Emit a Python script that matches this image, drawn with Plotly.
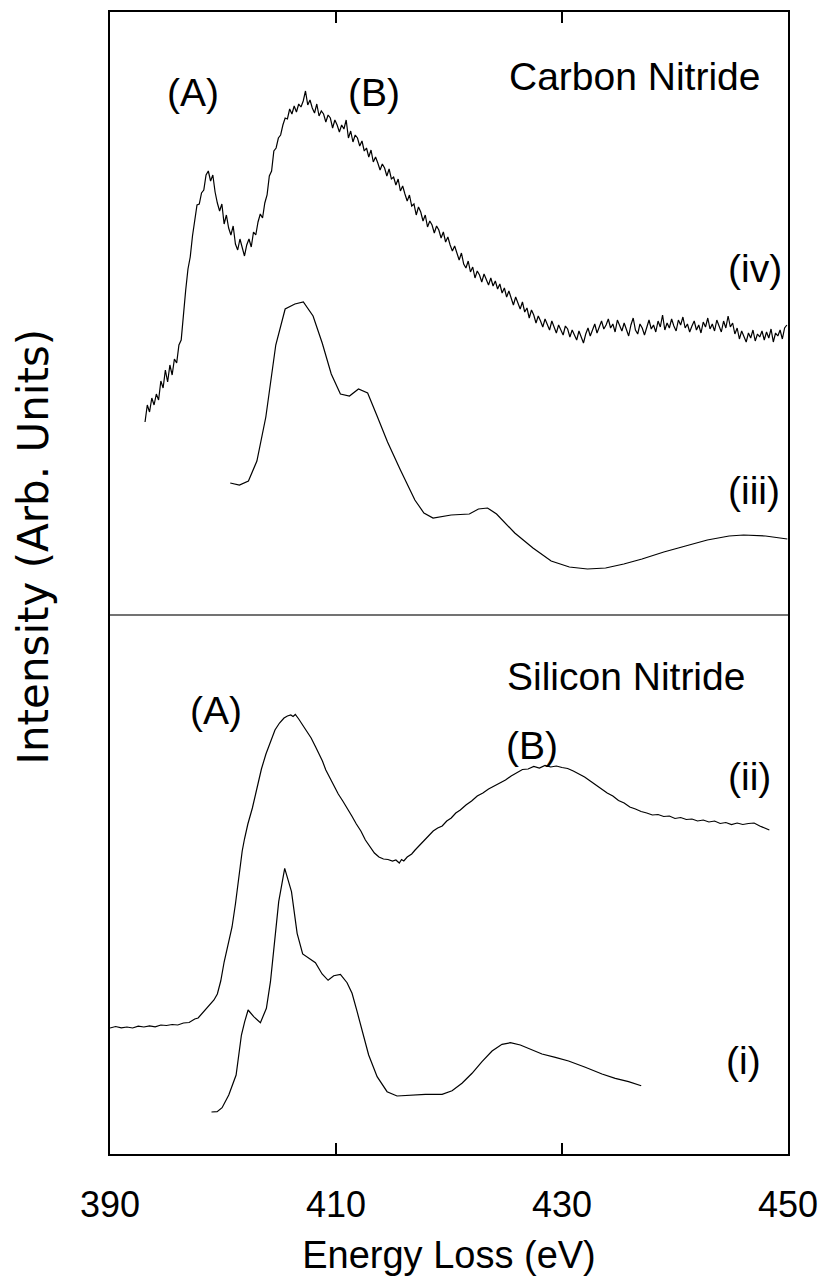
import plotly.graph_objects as go

# ---------------------------------------------------------------------------
# Spectra (energy loss in eV, intensity in arbitrary units, offsets included)
# ---------------------------------------------------------------------------

# (iv) Carbon nitride, measured spectrum: uniform channels starting at E0_IV
E0_IV = 393.1
DE_IV = 0.2
intensity_iv = [
    # 393.1 - 404.9 eV
    73.2, 74.9, 74.2, 75.6, 74.9, 76.0, 75.4, 77.3, 76.6, 78.4,
    77.2, 78.9, 77.9, 79.5, 79.1, 80.9, 81.4, 84.3, 86.4, 88.5,
    89.7, 91.8, 93.6, 94.9, 95.0, 96.1, 96.4, 97.9, 98.3, 97.3,
    97.9, 96.2, 95.1, 94.3, 95.0, 93.0, 93.9, 92.6, 91.9, 92.8,
    91.0, 90.4, 91.5, 90.6, 89.8, 90.9, 91.5, 90.7, 92.2, 91.9,
    93.2, 94.0, 93.6, 95.1, 95.9, 97.8, 98.3, 100.3, 100.6, 101.6,
    # 405.1 - 414.9 eV
    101.9, 102.9, 103.6, 103.5, 104.5, 104.0, 104.8, 104.2, 105.0, 104.7,
    105.3, 106.3, 104.9, 105.4, 104.6, 104.1, 105.0, 103.8, 104.3, 104.0,
    103.2, 103.9, 103.6, 102.6, 103.4, 102.9, 102.2, 102.9, 102.5, 103.4,
    101.6, 102.3, 101.2, 101.9, 101.6, 100.8, 101.3, 100.3, 100.6, 99.7,
    100.4, 99.2, 99.7, 99.1, 98.4, 99.0, 98.6, 97.8, 98.5, 97.5,
    # 415.1 - 424.9 eV
    97.7, 96.9, 97.5, 96.3, 96.8, 96.0, 95.3, 95.9, 94.8, 95.0,
    93.9, 94.7, 94.2, 93.3, 93.9, 92.7, 93.3, 92.9, 92.1, 92.8,
    92.4, 91.6, 92.2, 91.2, 91.7, 90.9, 90.3, 90.8, 90.0, 89.4,
    90.1, 89.0, 88.6, 89.3, 88.2, 88.7, 87.6, 88.3, 87.9, 87.2,
    88.0, 87.4, 86.9, 87.6, 86.8, 87.3, 86.5, 87.0, 86.1, 86.6,
    # 425.1 - 434.9 eV
    85.7, 86.3, 85.6, 84.9, 85.7, 85.0, 84.5, 85.2, 84.2, 84.6,
    83.6, 84.4, 83.9, 83.1, 83.8, 83.3, 82.7, 83.5, 82.9, 82.4,
    83.3, 82.6, 82.1, 82.9, 82.3, 81.9, 82.8, 82.5, 81.7, 82.4,
    81.9, 81.4, 82.3, 81.6, 81.1, 82.0, 82.6, 81.8, 82.4, 83.0,
    82.1, 82.7, 83.3, 82.5, 82.9, 83.5, 82.6, 83.0, 82.2, 83.4,
    # 435.1 - 444.9 eV
    82.8, 82.3, 83.1, 82.5, 81.8, 82.9, 83.6, 82.4, 82.0, 83.0,
    82.6, 81.9, 82.8, 83.4, 82.5, 82.9, 82.2, 83.3, 82.7, 83.9,
    82.4, 83.1, 82.6, 83.5, 82.8, 82.3, 83.4, 82.9, 83.7, 82.6,
    83.0, 82.2, 82.8, 83.3, 82.4, 82.9, 82.1, 83.2, 82.7, 83.6,
    82.5, 83.0, 82.3, 83.4, 82.8, 82.2, 83.3, 82.6, 83.8, 82.7,
    # 445.1 - 449.9 eV
    83.1, 82.0, 82.6, 81.5, 82.3, 81.8, 81.2, 82.1, 81.6, 82.4,
    81.3, 82.0, 81.7, 82.3, 81.4, 82.2, 81.6, 82.5, 81.2, 82.1,
    81.8, 82.4, 81.5, 82.6, 82.9,
]
energy_iv = [round(E0_IV + DE_IV * k, 2) for k in range(len(intensity_iv))]

# (iii) Carbon nitride, calculated spectrum
energy_iii = [
    400.64, 401.45, 402.25, 403.00, 403.79, 404.67, 405.50, 406.36, 407.11, 407.97,
    408.78, 409.58, 410.39, 411.19, 411.99, 412.80, 413.60, 414.56, 415.70, 416.98,
    417.78, 418.59, 420.19, 421.80, 422.61, 423.41, 424.21, 425.82, 427.43, 429.04,
    430.65, 432.25, 433.86, 435.47, 437.08, 439.01, 440.93, 442.86, 444.79, 446.07,
    448.01, 449.94,
]
intensity_iii = [
    67.1, 66.9, 67.3, 69.3, 73.7, 80.9, 84.5, 85.0, 85.2, 83.8,
    81.1, 78.0, 76.0, 75.8, 76.5, 76.1, 73.9, 71.2, 68.4, 65.4,
    64.1, 63.6, 63.9, 64.0, 64.5, 64.6, 64.0, 62.1, 60.6, 59.3,
    58.7, 58.5, 58.6, 59.0, 59.5, 60.2, 60.8, 61.4, 61.8, 61.9,
    61.8, 61.5,
]

# (ii) Silicon nitride, measured spectrum
energy_ii = [
    390.0, 390.5, 391.0, 391.5, 392.0, 392.5, 393.0, 393.5, 394.0, 394.5,
    395.0, 395.5, 396.0, 396.5, 397.0, 397.5, 397.8, 398.0, 398.4, 398.8,
    399.2, 399.5, 399.8, 400.1, 400.4, 400.8, 401.1, 401.4, 401.7, 401.9,
    402.2, 402.6, 403.0, 403.4, 403.8, 404.2, 404.6, 405.0, 405.4, 405.7,
    406.0, 406.2, 406.4, 406.7, 407.0, 407.4, 407.8, 408.2, 408.5, 408.8,
    409.1, 409.4, 409.8, 410.2, 410.6, 411.0, 411.4, 411.8, 412.2, 412.6,
    413.0, 413.4, 413.8, 414.2, 414.6, 415.0, 415.3, 415.6, 415.8, 416.0,
    416.3, 416.7, 417.0, 417.4, 417.8, 418.2, 418.6, 419.0, 419.4, 419.8,
    420.2, 420.6, 421.0, 421.5, 422.0, 422.5, 423.0, 423.5, 424.0, 424.5,
    425.0, 425.5, 426.0, 426.5, 427.0, 427.5, 428.0, 428.5, 429.0, 429.5,
    430.0, 430.5, 431.0, 431.5, 432.0, 432.5, 433.0, 433.5, 434.0, 434.5,
    435.0, 435.5, 436.0, 436.5, 437.0, 437.5, 438.0, 438.5, 439.0, 439.5,
    440.0, 440.5, 441.0, 441.5, 442.0, 442.5, 443.0, 443.5, 444.0, 444.5,
    445.0, 445.5, 446.0, 446.5, 447.0, 447.5, 448.0, 448.35,
]
intensity_ii = [
    12.60, 12.75, 12.62, 12.70, 12.60, 12.78, 12.70, 12.82, 12.72, 12.90,
    12.85, 12.95, 12.90, 13.10, 13.15, 13.50, 13.60, 13.85, 14.30, 14.80,
    15.40, 16.00, 17.30, 19.20, 20.80, 22.70, 25.00, 27.90, 30.30, 31.50,
    33.00, 34.60, 36.60, 38.50, 40.00, 41.30, 42.40, 43.10, 43.60, 43.80,
    43.90, 43.75, 43.95, 43.50, 43.00, 42.40, 41.60, 40.70, 40.00, 39.30,
    38.40, 37.70, 36.90, 36.00, 35.30, 34.60, 33.80, 33.00, 32.30, 31.40,
    30.70, 30.10, 29.70, 29.50, 29.45, 29.30, 29.40, 29.10, 29.45, 29.30,
    29.70, 30.00, 30.40, 30.90, 31.40, 31.80, 32.30, 32.60, 32.80, 33.30,
    33.60, 34.10, 34.40, 34.90, 35.30, 35.80, 36.10, 36.50, 36.80, 37.10,
    37.40, 37.80, 38.10, 38.45, 38.50, 38.75, 38.60, 38.85, 38.70, 38.80,
    38.65, 38.55, 38.30, 38.00, 37.70, 37.30, 36.90, 36.50, 36.10, 35.80,
    35.35, 35.10, 34.70, 34.50, 34.25, 34.10, 33.90, 33.95, 33.75, 33.80,
    33.55, 33.65, 33.45, 33.50, 33.30, 33.40, 33.20, 33.30, 33.05, 33.15,
    32.95, 33.10, 32.95, 33.05, 33.10, 32.80, 32.60, 32.40,
]

# (i) Silicon nitride, calculated spectrum
energy_i = [
    398.98, 399.48, 399.92, 400.51, 401.16, 401.63, 401.92, 402.22, 402.72, 403.31,
    403.84, 404.20, 404.93, 405.46, 406.06, 406.56, 407.05, 407.59, 408.18, 408.77,
    409.30, 409.80, 410.39, 410.98, 411.42, 411.87, 412.31, 412.89, 413.64, 414.52,
    415.40, 416.43, 417.91, 419.39, 420.27, 421.15, 422.04, 422.92, 423.81, 424.69,
    425.43, 426.31, 427.35, 428.23, 429.41, 430.58, 432.06, 433.54, 434.71, 435.89,
    437.01,
]
intensity_i = [
    4.20, 4.23, 4.63, 5.90, 7.90, 11.90, 13.23, 14.40, 13.73, 13.13,
    14.57, 17.23, 25.23, 28.57, 26.23, 22.07, 20.00, 19.57, 19.13, 18.00,
    17.37, 17.83, 17.97, 17.13, 16.07, 14.23, 12.23, 9.90, 7.73, 6.23,
    5.80, 5.87, 5.97, 5.97, 6.33, 7.07, 8.07, 9.23, 10.30, 10.97,
    11.13, 10.90, 10.40, 10.00, 9.67, 9.30, 8.67, 8.00, 7.57, 7.23,
    6.83,
]

# Axis settings and labels
X_RANGE = [390, 450]
Y_RANGE = [0, 114.2]
X_TICKS = [390, 410, 430, 450]
PANEL_SPLIT = 53.9

FONT = "Liberation Sans, Arial, Helvetica, sans-serif"
WIDE_FONT = "DejaVu Sans, Liberation Sans, Arial, sans-serif"
LABEL_SIZE = 39

fig = go.Figure()
line_style = dict(color="black", width=1.2)
for name, xs, ys in [
    ("(iv)", energy_iv, intensity_iv),
    ("(iii)", energy_iii, intensity_iii),
    ("(ii)", energy_ii, intensity_ii),
    ("(i)", energy_i, intensity_i),
]:
    fig.add_trace(go.Scatter(x=xs, y=ys, mode="lines", line=line_style,
                             name=name, showlegend=False, hoverinfo="skip"))

# Divider between the carbon nitride and silicon nitride panels
fig.add_shape(type="line", xref="paper", x0=0, x1=1, yref="y",
              y0=PANEL_SPLIT, y1=PANEL_SPLIT,
              line=dict(color="#444444", width=1.5))

# (text, x, y, horizontal anchor)
labels = [
    ("(A)", 397.34, 106.15, "center"),
    ("(B)", 413.40, 106.15, "center"),
    ("Carbon Nitride", 447.72, 107.75, "right"),
    ("(iv)", 449.66, 88.6, "right"),
    ("(iii)", 449.49, 66.4, "right"),
    ("Silicon Nitride", 446.39, 47.75, "right"),
    ("(A)", 399.36, 44.4, "center"),
    ("(B)", 427.34, 40.9, "center"),
    ("(ii)", 448.69, 37.8, "right"),
    ("(i)", 447.81, 9.35, "right"),
]
for text, x, y, anchor in labels:
    fig.add_annotation(x=x, y=y, xref="x", yref="y", text=text,
                       showarrow=False, xanchor=anchor, yanchor="middle",
                       font=dict(family=FONT, size=LABEL_SIZE, color="black"))

# Vertical intensity label, set a little above the middle of the axis
fig.add_annotation(x=-0.1136, y=0.532, xref="paper", yref="paper",
                   text="Intensity (Arb. Units)", textangle=-90,
                   showarrow=False, xanchor="center", yanchor="middle",
                   font=dict(family=WIDE_FONT, size=42, color="black"))

fig.update_xaxes(
    range=X_RANGE, tickvals=X_TICKS, ticktext=[str(t) for t in X_TICKS],
    ticks="inside", ticklen=11, tickwidth=2, tickcolor="black",
    showline=True, linecolor="black", linewidth=2, mirror="ticks",
    showgrid=False, zeroline=False,
    tickfont=dict(family=FONT, size=36, color="black"),
    ticklabelstandoff=18,
    title=dict(text="Energy Loss (eV)", font=dict(family=FONT, size=38, color="black"),
               standoff=17),
)
fig.update_yaxes(
    range=Y_RANGE, showticklabels=False, ticks="",
    showline=True, linecolor="black", linewidth=2, mirror=True,
    showgrid=False, zeroline=False,
)
fig.update_layout(
    width=825, height=1277,
    margin=dict(l=110, r=37, t=12, b=123, autoexpand=False),
    paper_bgcolor="white", plot_bgcolor="white",
    font=dict(family=FONT, color="black"),
)

fig.write_html("out.html")
